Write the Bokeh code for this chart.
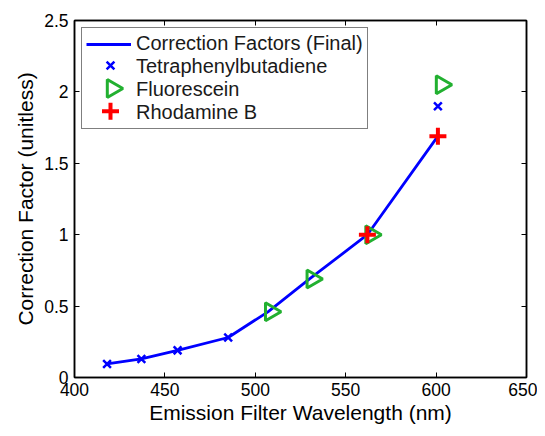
import math
from bokeh.plotting import figure
from bokeh.models import LinearAxis, FixedTicker, Range1d, Legend, LegendItem, ColumnDataSource
from bokeh.embed import file_html
from bokeh.resources import INLINE

# Data
final_wl = [418, 437, 457, 485, 507, 530, 562, 601]
final_cf = [0.095, 0.13, 0.19, 0.28, 0.46, 0.69, 1.0, 1.69]
tpb_wl = [418, 437, 457, 485, 601]
tpb_cf = [0.095, 0.13, 0.19, 0.28, 1.90]
flu_wl = [508.5, 531.5, 564, 603]
flu_cf = [0.46, 0.69, 1.0, 2.05]
rhb_wl = [562, 601]
rhb_cf = [1.0, 1.69]
x_ticks = [400, 450, 500, 550, 600, 650]
y_ticks = [0, 0.5, 1, 1.5, 2, 2.5]
y_tick_labels = ["0", "0.5", "1", "1.5", "2", "2.5"]
legend_labels = ["Correction Factors (Final)", "Tetraphenylbutadiene", "Fluorescein", "Rhodamine B"]

FONT = "Liberation Sans"
BLUE = "#0000ff"
GREEN = "#22b030"
RED = "#ff0000"

W, H = 537, 428
BL, BT, BR, BB = 74, 20, 11, 51
FW, FH = W - BL - BR, H - BT - BB

p = figure(width=W, height=H, output_backend="svg", toolbar_location=None,
           x_range=Range1d(400, 650), y_range=Range1d(0, 2.5),
           min_border_left=BL, min_border_top=BT, min_border_right=BR, min_border_bottom=BB)
# pixel-space ranges (frame pixels, y measured from frame top) for legend glyphs
p.extra_x_ranges = {"px": Range1d(0, FW)}
p.extra_y_ranges = {"py": Range1d(FH, 0)}
p.xgrid.visible = False
p.ygrid.visible = False
p.outline_line_color = "black"
p.outline_line_width = 1.5

for ax in p.xaxis + p.yaxis:
    ax.major_tick_in = 5
    ax.major_tick_out = 0
    ax.minor_tick_in = 0
    ax.minor_tick_out = 0
    ax.axis_line_color = "black"
    ax.axis_line_width = 1.5
    ax.major_label_text_font = FONT
    ax.major_label_text_font_size = "17.5px"
    ax.major_label_text_color = "black"
    ax.axis_label_text_font = FONT
    ax.axis_label_text_font_size = "21px"
    ax.axis_label_text_font_style = "normal"
    ax.axis_label_text_color = "black"

p.xaxis.ticker = FixedTicker(ticks=x_ticks)
p.yaxis.ticker = FixedTicker(ticks=y_ticks)
p.yaxis.major_label_overrides = {t: l for t, l in zip(y_ticks, y_tick_labels)}
p.xaxis.axis_label = "Emission Filter Wavelength (nm)"
p.yaxis.axis_label = "Correction Factor (unitless)"
p.xaxis.major_label_standoff = 5
p.yaxis.major_label_standoff = 6
p.xaxis.axis_label_standoff = 2
p.yaxis.axis_label_standoff = 4

for loc in ("above", "right"):
    ticks = x_ticks if loc == "above" else y_ticks
    ax = LinearAxis(major_tick_in=5, major_tick_out=0, minor_tick_in=0, minor_tick_out=0,
                    axis_line_width=1.5, major_label_standoff=0)
    ax.ticker = FixedTicker(ticks=ticks)
    ax.major_label_overrides = {t: "" for t in ticks}
    p.add_layout(ax, loc)

r_line = p.line(final_wl, final_cf, line_color=BLUE, line_width=2.8)
p.scatter(tpb_wl, tpb_cf, marker="x", size=11, line_color=BLUE, line_width=2.5)
flu_src = ColumnDataSource(dict(x=flu_wl, y=flu_cf, a=[-math.pi / 2] * len(flu_wl)))
p.scatter("x", "y", source=flu_src, marker="triangle", angle="a", size=18,
          line_color=GREEN, fill_color=None, line_width=3)
p.scatter(rhb_wl, rhb_cf, marker="cross", size=17, line_color=RED, line_width=4)

# invisible stand-ins so the legend shows the labels; glyphs are drawn below in pixel space
d_tpb = p.scatter([], [], marker="x", alpha=0)
d_flu = p.scatter([], [], marker="triangle", alpha=0)
d_rhb = p.scatter([], [], marker="cross", alpha=0)

legend = Legend(items=[
    LegendItem(label=legend_labels[0], renderers=[r_line]),
    LegendItem(label=legend_labels[1], renderers=[d_tpb]),
    LegendItem(label=legend_labels[2], renderers=[d_flu]),
    LegendItem(label=legend_labels[3], renderers=[d_rhb]),
], location="top_left")
legend.label_text_font = FONT
legend.label_text_font_size = "20px"
legend.label_text_color = "#1a1a1a"
legend.border_line_color = "black"
legend.border_line_width = 1.5
legend.background_fill_alpha = 0
legend.glyph_width = 45
legend.glyph_height = 20
legend.spacing = 0
legend.padding = 4
legend.margin = 7
legend.label_standoff = 5
legend.label_height = 20
p.add_layout(legend)

# legend marker glyphs (legend decoration, positioned in frame pixels)
kw = dict(x_range_name="px", y_range_name="py")
p.scatter([36], [45], marker="x", size=11, line_color=BLUE, line_width=2.5, **kw)
p.scatter([38], [68], marker="triangle", angle=-math.pi / 2, size=18,
          line_color=GREEN, fill_color=None, line_width=3, **kw)
p.scatter([36], [90.7], marker="cross", size=17, line_color=RED, line_width=4, **kw)

open("out.html", "w").write(file_html(p, INLINE))
